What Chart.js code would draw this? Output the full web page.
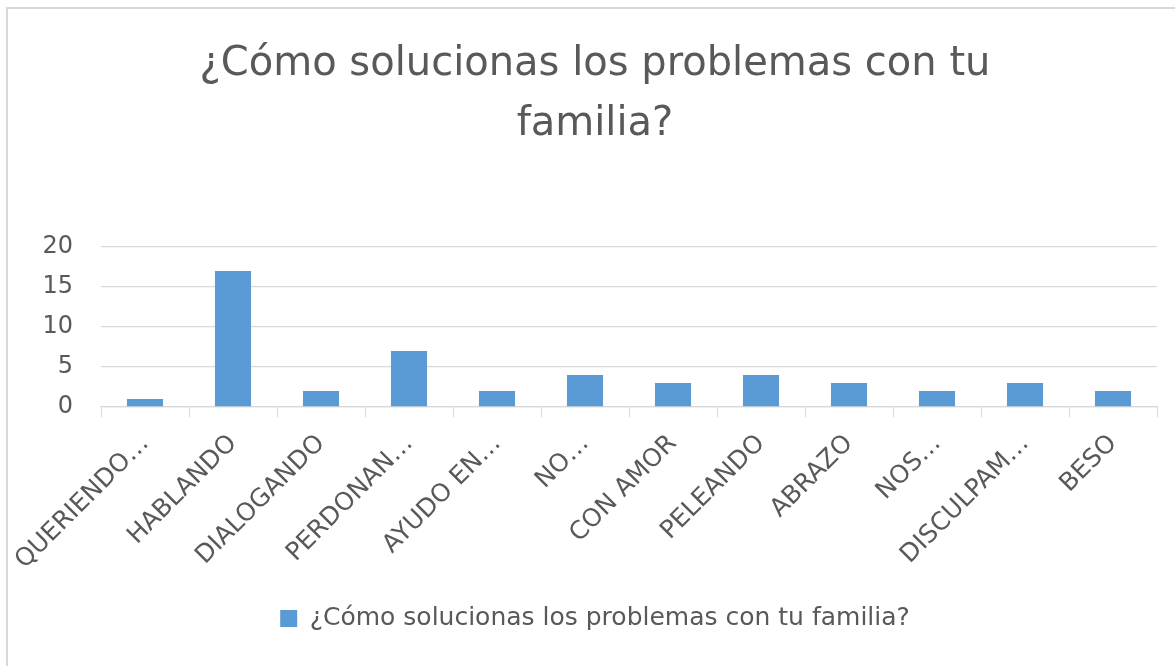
<!DOCTYPE html>
<html>
<head>
<meta charset="utf-8">
<script src="https://cdn.jsdelivr.net/npm/chart.js@4"></script>
<style>
  html, body { margin: 0; padding: 0; background: #fff; }
  #wrap { position: relative; width: 1175px; height: 666px; overflow: hidden; }
  #frame {
    position: absolute; left: 6px; top: 7px; width: 1300px; height: 800px;
    border-left: 2px solid #d9d9d9; border-top: 2px solid #d9d9d9;
    pointer-events: none;
  }
  canvas { position: absolute; left: 0; top: 0; }
</style>
</head>
<body>
<div id="wrap">
  <canvas id="chart" width="1175" height="666"></canvas>
  <div id="frame"></div>
</div>
<script>
const TITLE = ["¿Cómo solucionas los problemas con tu", "familia?"];
const SERIES_NAME = "¿Cómo solucionas los problemas con tu familia?";
const categories = [
  "QUERIENDO…", "HABLANDO", "DIALOGANDO", "PERDONAN…", "AYUDO EN…", "NO…",
  "CON AMOR", "PELEANDO", "ABRAZO", "NOS…", "DISCULPAM…", "BESO"
];
const values = [1, 17, 2, 7, 2, 4, 3, 4, 3, 2, 3, 2];
const yTicks = [0, 5, 10, 15, 20];

const FONT = "'DejaVu Sans', 'Open Sans', sans-serif";
const GREY = "#595959";
const LINE = "#d9d9d9";

new Chart(document.getElementById("chart"), {
  type: "bar",
  data: {
    labels: categories,
    datasets: [{
      label: SERIES_NAME,
      data: values,
      backgroundColor: "#5b9bd5",
      borderWidth: 0,
      barPercentage: 0.41,
      categoryPercentage: 1,
    }],
  },
  options: {
    responsive: false,
    animation: false,
    layout: { padding: { left: 33, right: 18, top: 0, bottom: 25 } },
    plugins: {
      title: {
        display: true,
        text: TITLE,
        color: GREY,
        font: { family: FONT, size: 40, weight: "normal", lineHeight: 1.5 },
        padding: { top: 35, bottom: 92 },
      },
      legend: {
        position: "bottom",
        labels: {
          color: GREY,
          font: { family: FONT, size: 25 },
          boxWidth: 17,
          boxHeight: 17,
          padding: 10,
        },
      },
      tooltip: { enabled: false },
    },
    scales: {
      x: {
        grid: {
          display: true,
          drawOnChartArea: false,
          drawTicks: true,
          tickLength: 10,
          color: LINE,
        },
        border: { color: LINE, width: 1.3 },
        ticks: {
          color: GREY,
          font: { family: FONT, size: 25 },
          minRotation: 45,
          maxRotation: 45,
          padding: 12,
          autoSkip: false,
        },
        afterFit(s) {
          s.height = 189;
          s.paddingLeft = 0;
          s.paddingRight = 0;
        },
      },
      y: {
        min: 0,
        max: 20,
        afterBuildTicks(s) {
          s.ticks = yTicks.map((v) => ({ value: v }));
        },
        grid: { color: LINE, drawTicks: false, lineWidth: 1.3 },
        border: { display: false },
        ticks: {
          color: GREY,
          font: { family: FONT, size: 24 },
          padding: 28,
        },
        afterFit(s) {
          s.width = 68;
          s.paddingTop = 0;
          s.paddingBottom = 0;
        },
      },
    },
  },
});
</script>
</body>
</html>
